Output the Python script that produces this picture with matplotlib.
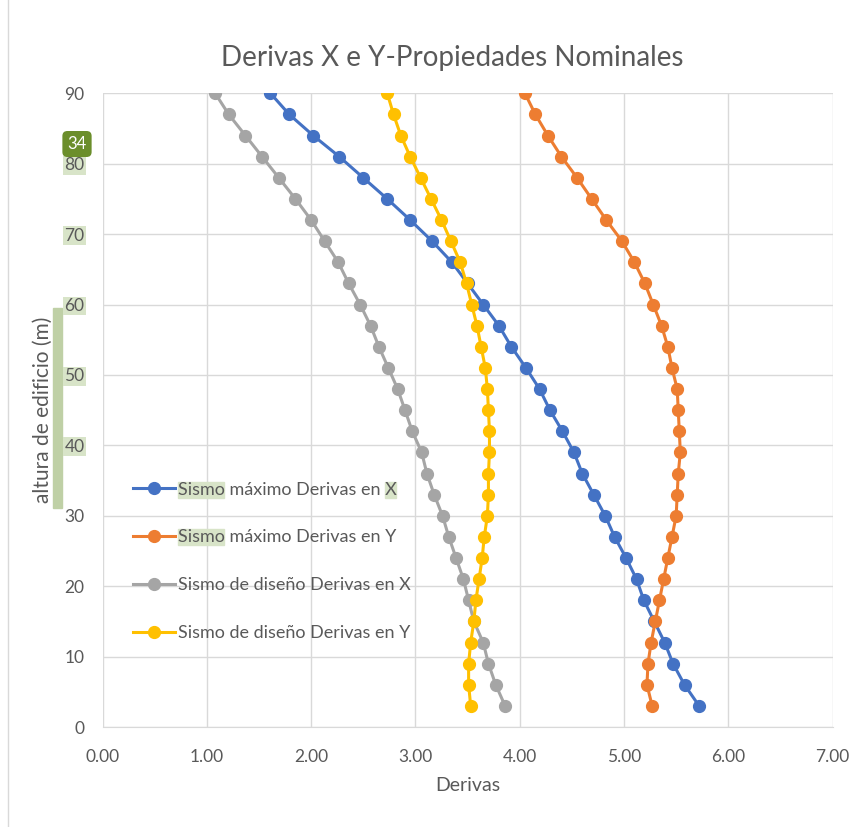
import matplotlib
matplotlib.use("Agg")
import matplotlib.pyplot as plt
from matplotlib.patches import Rectangle
from matplotlib.lines import Line2D

plt.rcParams['font.family'] = ['Lato', 'DejaVu Sans']

# alturas (m) y derivas
altura = [3, 6, 9, 12, 15, 18, 21, 24, 27, 30, 33, 36, 39, 42, 45,
          48, 51, 54, 57, 60, 63, 66, 69, 72, 75, 78, 81, 84, 87, 90]
max_x = [5.72, 5.58, 5.47, 5.39, 5.29, 5.19, 5.12, 5.02, 4.91, 4.82,
         4.71, 4.60, 4.52, 4.41, 4.29, 4.19, 4.06, 3.92, 3.80, 3.65,
         3.50, 3.35, 3.16, 2.95, 2.73, 2.50, 2.27, 2.02, 1.79, 1.61]
max_y = [5.27, 5.22, 5.23, 5.26, 5.30, 5.34, 5.38, 5.42, 5.46, 5.50,
         5.51, 5.52, 5.54, 5.53, 5.52, 5.51, 5.46, 5.42, 5.36, 5.28,
         5.20, 5.10, 4.98, 4.83, 4.69, 4.55, 4.40, 4.27, 4.15, 4.05]
dis_x = [3.86, 3.77, 3.70, 3.65, 3.56, 3.51, 3.46, 3.39, 3.32, 3.26,
         3.18, 3.11, 3.06, 2.97, 2.90, 2.83, 2.74, 2.65, 2.57, 2.47,
         2.36, 2.26, 2.13, 2.00, 1.85, 1.69, 1.53, 1.37, 1.21, 1.08]
dis_y = [3.53, 3.51, 3.51, 3.53, 3.56, 3.58, 3.61, 3.64, 3.66, 3.69,
         3.70, 3.70, 3.71, 3.71, 3.70, 3.69, 3.67, 3.63, 3.59, 3.54,
         3.49, 3.43, 3.34, 3.25, 3.15, 3.05, 2.95, 2.86, 2.79, 2.73]

series = [
    (max_x, '#4472C4', 'Sismo máximo Derivas en X'),
    (max_y, '#ED7D31', 'Sismo máximo Derivas en Y'),
    (dis_x, '#A5A5A5', 'Sismo de diseño Derivas en X'),
    (dis_y, '#FFC000', 'Sismo de diseño Derivas en Y'),
]

fig = plt.figure(figsize=(8.58, 8.27), dpi=100)
ax = fig.add_axes([0.1195, 0.1209, 0.8509, 0.7663])

for vals, col, lab in series:
    ax.plot(vals, altura, color=col, lw=2.2, marker='o', ms=8.5, label=lab)

ax.set_xlim(0, 7)
ax.set_ylim(0, 90)
ax.set_xticks(range(0, 8))
ax.set_xticklabels(['%.2f' % v for v in range(0, 8)])
ax.set_yticks(range(0, 91, 10))
ax.grid(True, color='#d9d9d9', lw=1)
ax.set_axisbelow(True)
for s in ax.spines.values():
    s.set_visible(False)
ax.spines['bottom'].set_visible(True)
ax.spines['bottom'].set_color('#d9d9d9')
ax.tick_params(length=0, labelsize=12.5, colors='#595959')
ax.tick_params(axis='y', pad=13)
ax.tick_params(axis='x', pad=15.5)

ax.set_title('Derivas X e Y-Propiedades Nominales', fontsize=20, color='#595959', pad=20, x=0.479)
ax.set_xlabel('Derivas', fontsize=14, color='#595959', labelpad=9)
ax.set_ylabel('altura de edificio (m)', fontsize=15, color='#595959', labelpad=8)

leg = ax.legend(loc='upper left', bbox_to_anchor=(0.02, 0.413), frameon=False,
                fontsize=13, labelspacing=1.77, handlelength=2.3, handletextpad=0.15,
                labelcolor='#595959')

# marcas de resaltado del documento original
for lbl in ax.get_yticklabels():
    if lbl.get_text() in ('40', '50', '60', '70', '80'):
        lbl.set_bbox(dict(facecolor='#d8e4c8', edgecolor='none', pad=1))
fig.add_artist(Rectangle((53 / 858, 1 - 508 / 827), 9 / 858, 200 / 827,
                         transform=fig.transFigure, color='#bfd0a6', zorder=0))
fig.text(77 / 858, 1 - 144 / 827, '34', fontsize=12, color='white', ha='center', va='center',
         bbox=dict(boxstyle='round,pad=0.3', facecolor='#6b8e2b', edgecolor='none'))
fig.add_artist(Line2D([8 / 858, 8 / 858], [0, 1], transform=fig.transFigure,
                      color='#d9d9d9', lw=1))

fig.canvas.draw()
r = fig.canvas.get_renderer()
texts = leg.get_texts()
def word_box(txt, start, word):
    bb = txt.get_window_extent(r)
    tmp = fig.text(0, 0, txt.get_text()[:start], fontsize=13)
    off = tmp.get_window_extent(r).width if start else 0
    tmp.set_text(word)
    w = tmp.get_window_extent(r).width
    tmp.remove()
    ax.add_artist(Rectangle((bb.x0 + off, bb.y0), w, bb.height, transform=None,
                            color='#d8e4c8', zorder=1))
word_box(texts[0], 0, 'Sismo')
word_box(texts[1], 0, 'Sismo')
word_box(texts[0], len(texts[0].get_text()) - 1, 'X')

fig.savefig('out.png', dpi=100)
